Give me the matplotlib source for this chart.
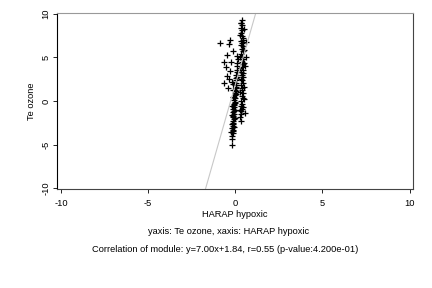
import numpy as np
import matplotlib
matplotlib.use("Agg")
import matplotlib.pyplot as plt

plt.rcParams["font.family"] = ["Liberation Sans", "DejaVu Sans"]

# lower column (near x = 0)
colA_x = [-0.18, -0.16, -0.17, -0.14, -0.15, -0.12, -0.16, -0.13, -0.10, -0.14,
          -0.11, -0.09, -0.13, -0.10, -0.08, -0.12, -0.07, -0.10, -0.05, -0.09,
          -0.06, -0.03, -0.07, -0.02, -0.05, 0.00, -0.03, 0.02, -0.01, 0.04,
          0.03, 0.06, 0.05, 0.08, 0.07, 0.10, 0.09, 0.12, 0.11, 0.14, 0.13,
          -0.22, -0.05, -0.20, -0.04, -0.19, -0.02, -0.17, 0.01, -0.15, 0.03,
          -0.12, 0.05, -0.10, 0.07]
colA_y = [-5.0, -4.4, -4.0, -3.7, -3.5, -3.3, -3.1, -2.9, -2.7, -2.5,
          -2.3, -2.1, -1.9, -1.7, -1.5, -1.3, -1.1, -0.9, -0.7, -0.5,
          -0.3, -0.1, 0.1, 0.3, 0.5, 0.7, 0.9, 1.1, 1.3, 1.5,
          1.8, 2.1, 2.4, 2.7, 3.0, 3.3, 3.6, 4.0, 4.4, 4.8, 5.2,
          -3.6, -3.0, -2.6, -2.0, -1.6, -1.0, -0.6, -0.2, 0.4, 0.8,
          1.2, 1.6, 2.0, 2.6]

# upper column (x ~ 0.4)
colB_x = [0.32, 0.30, 0.35, 0.33, 0.38, 0.34, 0.40, 0.36, 0.42, 0.37,
          0.44, 0.39, 0.41, 0.36, 0.43, 0.38, 0.45, 0.40, 0.35, 0.42,
          0.37, 0.44, 0.39, 0.46, 0.41, 0.36, 0.43, 0.38, 0.45, 0.40,
          0.35, 0.42, 0.37, 0.33, 0.39, 0.36, 0.41, 0.34, 0.38,
          0.27, 0.48, 0.29, 0.50, 0.31, 0.47, 0.28, 0.49, 0.30, 0.51,
          0.32, 0.46, 0.29, 0.48, 0.31,
          0.62, 0.60, 0.45, 0.55, 0.58]
colB_y = [-2.3, -1.9, -1.5, -1.2, -0.9, -0.6, -0.3, 0.0, 0.3, 0.6,
          0.9, 1.2, 1.5, 1.8, 2.1, 2.4, 2.7, 3.0, 3.3, 3.6,
          3.9, 4.2, 4.5, 4.8, 5.1, 5.4, 5.7, 6.0, 6.3, 6.6,
          6.9, 7.2, 7.5, 7.8, 8.1, 8.4, 8.7, 9.0, 9.3,
          -1.0, 0.2, 1.0, 1.6, 2.5, 3.2, 3.8, 4.4, 5.0, 5.8,
          6.4, 7.0, 7.6, 8.3, 8.9,
          6.8, 5.1, -0.65, -1.4, 4.0]

# scattered points left of the columns
colC_x = [-0.85, -0.32, -0.35, -0.13, -0.45, -0.64, -0.22, -0.54, -0.32, -0.50,
          -0.64, -0.35, -0.41, -0.18]
colC_y = [6.7, 7.0, 6.5, 5.75, 5.26, 4.46, 4.5, 3.9, 3.4, 2.86,
          2.1, 2.5, 1.45, 2.2]

slope, intercept = 7.00, 1.84
x_ticks = [-10, -5, 0, 5, 10]
y_ticks = [-10, -5, 0, 5, 10]

fs = 6.7

fig = plt.figure(figsize=(4.32, 2.88), dpi=100)
ax = fig.add_axes([0.133, 0.344, 0.823, 0.611])

xs = np.array(colA_x + colB_x + colC_x)
ys = np.array(colA_y + colB_y + colC_y)
ax.plot(xs, ys, "+", color="black", markersize=4, markeredgewidth=0.9)

x_line = np.array([-10.2, 10.2])
ax.plot(x_line, slope * x_line + intercept, color="#c8c8c8", lw=0.8)

ax.set_xlim(-10.2, 10.2)
ax.set_ylim(-10.1, 10.1)
ax.set_xticks(x_ticks)
ax.set_yticks(y_ticks)
ax.set_xticklabels([str(t) for t in x_ticks], fontsize=fs)
ax.set_yticklabels([str(t) for t in y_ticks], fontsize=fs, rotation=90, va="center")
ax.tick_params(axis="x", length=3, width=0.6, pad=4)
ax.tick_params(axis="y", length=3, width=0.6, pad=2)

ax.spines["top"].set_color("#999999")
ax.spines["right"].set_color("#444444")
ax.spines["bottom"].set_color("#444444")
ax.spines["left"].set_color("black")
for s in ax.spines.values():
    s.set_linewidth(0.8)

ax.set_xlabel("HARAP hypoxic", fontsize=fs, labelpad=2)
ax.set_ylabel("Te ozone", fontsize=fs, labelpad=4)

fig.text(229 / 432, 1 - 232 / 288, "yaxis: Te ozone, xaxis: HARAP hypoxic",
         ha="center", va="center", fontsize=fs)
fig.text(225 / 432, 1 - 250 / 288,
         "Correlation of module: y=7.00x+1.84, r=0.55 (p-value:4.200e-01)",
         ha="center", va="center", fontsize=fs)

fig.savefig("out.png", dpi=100)
